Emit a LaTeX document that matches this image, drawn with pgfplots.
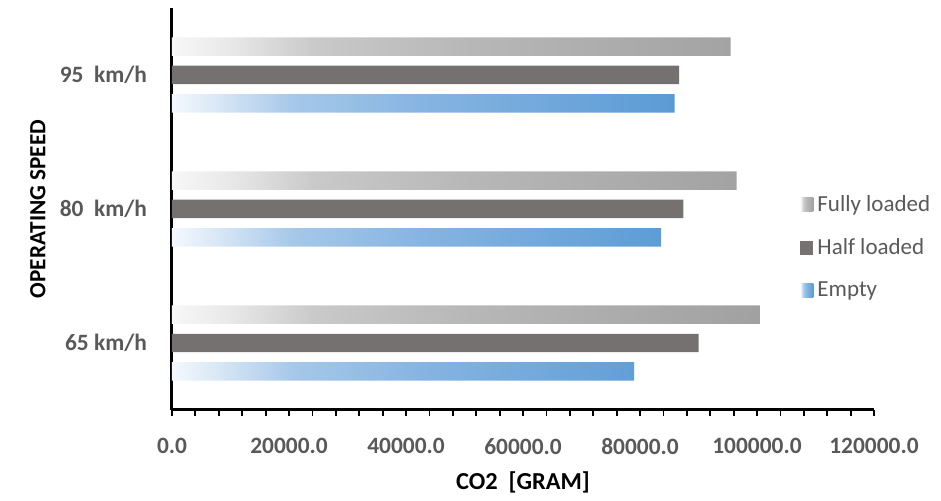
\documentclass[border=0pt]{standalone}
\usepackage{pgfplots}
\pgfplotsset{compat=1.18}
\usepackage{fontspec}
\setmainfont{Carlito}

\definecolor{ticktext}{HTML}{595959}
\definecolor{halfload}{HTML}{767171}

% Fades used for the bars: light at the base, full colour at the tip
\pgfdeclarehorizontalshading{grayfade}{100bp}{%
  color(0bp)=(white!97!black); color(25bp)=(white!97!black);
  color(30bp)=(white!91!black); color(37bp)=(white!79!black);
  color(50bp)=(white!72!black); color(75bp)=(white!63!black);
  color(100bp)=(white!63!black)}
\pgfdeclarehorizontalshading{bluefade}{100bp}{%
  color(0bp)=(rgb,255:red,244;green,248;blue,253); color(25bp)=(rgb,255:red,244;green,248;blue,253);
  color(30bp)=(rgb,255:red,214;green,229;blue,245); color(37bp)=(rgb,255:red,166;green,200;blue,233);
  color(50bp)=(rgb,255:red,134;green,180;blue,225); color(75bp)=(rgb,255:red,91;green,155;blue,213);
  color(100bp)=(rgb,255:red,91;green,155;blue,213)}

\pgfplotstableread{
pos full half empty
0 100600 90000 79000
1 96500 87400 83600
2 95500 86700 85900
}\codata

\begin{document}
\begin{tikzpicture}
\path (-86pt,-42.5pt) rectangle (384.5pt,205pt);
\begin{axis}[
  at={(0pt,0pt)}, anchor=south west,
  scale only axis,
  width=351pt, height=201pt,
  xmin=0, xmax=120000,
  ymin=-0.5, ymax=2.5,
  axis x line*=bottom, axis y line*=left,
  axis line style={line width=1.5pt, black, -},
  xtick={0,20000,...,120000},
  minor xtick={4000,8000,...,116000},
  scaled x ticks=false,
  tick align=outside,
  major tick length=3pt, minor tick length=3pt,
  every tick/.style={black, line width=0.9pt},
  ytick={0,1,2},
  yticklabels={65 km/h, 80\ \ km/h, 95\ \ km/h},
  y tick style={draw=none},
  /pgf/number format/.cd, fixed, fixed zerofill, precision=1, 1000 sep={}, assume math mode=true,
  /pgfplots/.cd,
  tick label style={font=\fontsize{11.7}{14}\selectfont\bfseries, text=ticktext},
  xticklabel style={yshift=-7.5pt},
  yticklabel style={xshift=-6pt},
  xlabel={CO2\ \ [GRAM]},
  ylabel={OPERATING SPEED},
  every axis x label/.style={at={(axis description cs:0.5,-0.181)}, anchor=center,
    font=\fontsize{12.2}{14}\selectfont\bfseries, text=black},
  every axis y label/.style={at={(axis description cs:-0.191,0.5)}, anchor=center, rotate=90,
    font=\fontsize{11.6}{14}\selectfont\bfseries, text=black},
  xbar, bar width=0.138,
  legend image code/.code={\path[#1] (0pt,-3.5pt) rectangle (6.5pt,3.5pt);},
  legend style={at={(0.8946,0.405)}, anchor=west, draw=none, fill=none,
    font=\fontsize{11.5}{14}\selectfont, text=ticktext, row sep=8pt,
    inner sep=0pt},
  legend cell align=left,
]
\addplot[draw=none, shade, shading=grayfade, bar shift=0.212] table[x=full, y=pos] {\codata};
\addplot[draw=none, fill=halfload, bar shift=0] table[x=half, y=pos] {\codata};
\addplot[draw=none, shade, shading=bluefade, bar shift=-0.212] table[x=empty, y=pos] {\codata};
\legend{Fully loaded, Half loaded, Empty}
\end{axis}
\end{tikzpicture}
\end{document}
